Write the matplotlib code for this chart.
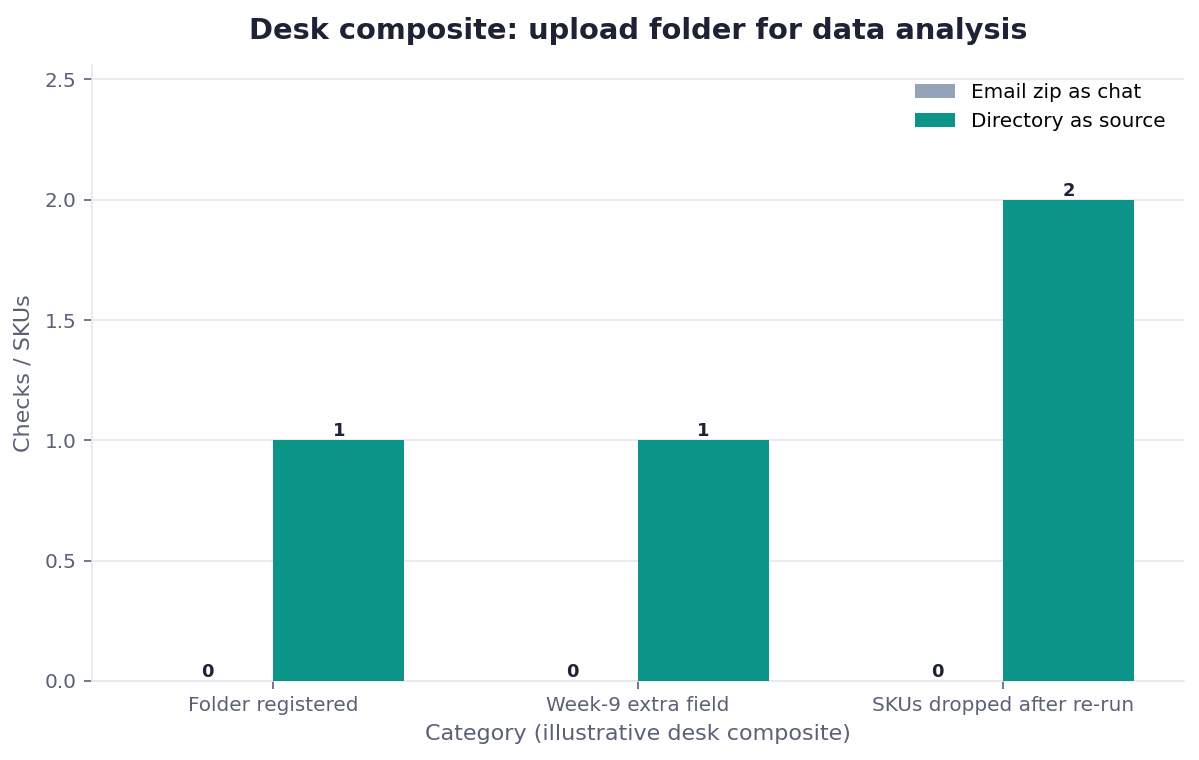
import matplotlib
matplotlib.use('Agg')
import matplotlib.pyplot as plt
import numpy as np

plt.rcParams['font.family'] = 'DejaVu Sans'

categories = ['Folder registered', 'Week-9 extra field', 'SKUs dropped after re-run']
email_zip = [0, 0, 0]
directory = [1, 1, 2]
series_names = ['Email zip as chat', 'Directory as source']

GREY = '#94a3b8'
TEAL = '#0d9488'
TEXT_DARK = '#1e2235'
TEXT_MUTED = '#5a6176'
GRID = '#e5e7eb'

fig = plt.figure(figsize=(11.99, 7.6), dpi=100)
ax = fig.add_axes([0.0767, 0.104, 0.9108, 0.8105])

x = np.arange(len(categories))
w = 0.36
b1 = ax.bar(x - w / 2, email_zip, w, color=GREY, label=series_names[0], zorder=3)
b2 = ax.bar(x + w / 2, directory, w, color=TEAL, label=series_names[1], zorder=3)

for bars in (b1, b2):
    for r in bars:
        ax.annotate(f"{int(r.get_height())}", (r.get_x() + r.get_width() / 2, r.get_height()),
                    xytext=(0, 0), textcoords='offset points', ha='center', va='bottom',
                    fontsize=13, fontweight='bold', color=TEXT_DARK)

ax.set_ylim(0, max(directory) * 1.28)
ax.set_xticks(x)
ax.set_xticklabels(categories)
ax.tick_params(axis='both', labelsize=14.4, colors=TEXT_MUTED, length=6, width=1.2, pad=5)
ax.yaxis.grid(True, color=GRID, linewidth=1.2, zorder=0)
ax.set_axisbelow(True)
for s in ('top', 'right'):
    ax.spines[s].set_visible(False)
for s in ('left', 'bottom'):
    ax.spines[s].set_color(GRID)
    ax.spines[s].set_linewidth(1.2)

ax.set_xlabel('Category (illustrative desk composite)', fontsize=16, color=TEXT_MUTED, labelpad=6)
ax.set_ylabel('Checks / SKUs', fontsize=16, color=TEXT_MUTED, labelpad=8)
ax.set_title('Desk composite: upload folder for data analysis', fontsize=20.75,
             fontweight='bold', color=TEXT_DARK, pad=19)

leg = ax.legend(loc='upper right', frameon=False, fontsize=14.4)

fig.savefig('out.png', dpi=100, facecolor='white')
